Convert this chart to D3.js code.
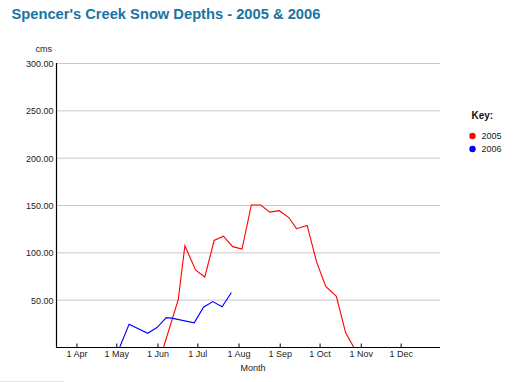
<!DOCTYPE html>
<html>
<head>
<meta charset="utf-8">
<script src="https://cdn.jsdelivr.net/npm/d3@7"></script>
<style>
  html, body { margin: 0; padding: 0; background: #fff; }
  svg { display: block; font-family: "Liberation Sans", Arial, Helvetica, sans-serif; }
</style>
</head>
<body>
<svg id="chart" width="532" height="382"></svg>
<script>
// ---- data (month-day of reading, snow depth in cms) ----
const dates2005 = ["06-06","06-17","06-22","06-30","07-07","07-14","07-21","07-28","08-04","08-11","08-18","08-25","09-01","09-08","09-14","09-22","09-29","10-06","10-14","10-21","10-27"];
const depth2005 = [0, 50, 107, 81.5, 74, 112.5, 117, 106, 103.5, 150, 150, 142.5, 144, 137, 125, 128.5, 90.5, 64, 53.5, 15, 0];
const dates2006 = ["05-04","05-11","05-25","06-01","06-08","06-12","06-29","07-06","07-13","07-20","07-27"];
const depth2006 = [0, 24, 14.5, 20.5, 31, 30.5, 25.5, 42, 48, 42.5, 57.5];
const seriesNames = ["2005", "2006"];
const seriesColors = ["#ff0000", "#0000ff"];
const monthTicks = ["04-01","05-01","06-01","07-01","08-01","09-01","10-01","11-01","12-01"];
const yTicks = [50, 100, 150, 200, 250, 300];
const xDomain = ["03-17", "12-31"];

(function () {
const parse = s => d3.timeParse("%Y-%m-%d")("2005-" + s);
const svg = d3.select("#chart");

// title
svg.append("text").attr("x", 11.5).attr("y", 18.5)
  .attr("font-size", "14.7px").attr("font-weight", "bold").attr("fill", "#1a74a3")
  .text("Spencer's Creek Snow Depths - 2005 & 2006");

const mLeft = 56, mRight = 440, mTop = 63, mBottom = 347;
const x = d3.scaleTime().domain(xDomain.map(parse)).range([mLeft, mRight]);
const y = d3.scaleLinear().domain([0, 300]).range([mBottom, mTop]);

// gridlines
svg.append("g").selectAll("line").data(yTicks).join("line")
  .attr("x1", mLeft).attr("x2", mRight)
  .attr("y1", d => y(d) + 0.5).attr("y2", d => y(d) + 0.5)
  .attr("stroke", "#c8c8c8").attr("stroke-width", 1);

// y axis
const yAxis = d3.axisLeft(y).tickValues(yTicks).tickSize(0).tickPadding(3)
  .tickFormat(d3.format(".2f"));
const gy = svg.append("g").attr("transform", `translate(${mLeft + 0.5},0.5)`).call(yAxis);
gy.select(".domain").remove();
gy.selectAll("text").attr("font-size", "9px").attr("fill", "#222");
gy.attr("font-family", null);
svg.append("line").attr("x1", mLeft + 0.5).attr("x2", mLeft + 0.5).attr("y1", mTop).attr("y2", mBottom + 0.5)
  .attr("stroke", "#000").attr("stroke-width", 1.2);

svg.append("text").attr("x", 52).attr("y", 52).attr("text-anchor", "end")
  .attr("font-size", "9px").attr("fill", "#222").text("cms");

// x axis
const fmt = d3.timeFormat("%-d %b");
const xAxis = d3.axisBottom(x).tickValues(monthTicks.map(parse)).tickSize(-4).tickPadding(3.5)
  .tickFormat(fmt);
const gx = svg.append("g").attr("transform", `translate(0.5,${mBottom + 0.5})`).call(xAxis);
gx.select(".domain").remove();
gx.attr("font-family", null);
gx.selectAll(".tick line").attr("stroke", "#000");
gx.selectAll("text").attr("font-size", "9px").attr("fill", "#222");
svg.append("line").attr("x1", mLeft).attr("x2", mRight).attr("y1", mBottom + 0.5).attr("y2", mBottom + 0.5)
  .attr("stroke", "#000").attr("stroke-width", 1.2);

svg.append("text").attr("x", 253).attr("y", 371).attr("text-anchor", "middle")
  .attr("font-size", "9px").attr("fill", "#222").text("Month");

// lines
const series = [
  dates2005.map((d, i) => ({ date: parse(d), v: depth2005[i] })),
  dates2006.map((d, i) => ({ date: parse(d), v: depth2006[i] }))
];
const line = d3.line().x(d => x(d.date)).y(d => y(d.v));
svg.append("g").selectAll("path").data(series).join("path")
  .attr("d", line).attr("fill", "none")
  .attr("stroke", (d, i) => seriesColors[i]).attr("stroke-width", 1.1);

// legend
svg.append("text").attr("x", 471.5).attr("y", 119).attr("font-size", "10px")
  .attr("font-weight", "bold").attr("fill", "#111").text("Key:");
const lg = svg.append("g").selectAll("g").data(seriesNames).join("g")
  .attr("transform", (d, i) => `translate(472.5,${136 + i * 13})`);
lg.append("circle").attr("r", 3.2).attr("fill", (d, i) => seriesColors[i]);
lg.append("text").attr("x", 9).attr("y", 3.3).attr("font-size", "9px").attr("fill", "#222").text(d => d);

// faint bottom line
svg.append("line").attr("x1", 0).attr("x2", 64).attr("y1", 381.5).attr("y2", 381.5)
  .attr("stroke", "#e4e4e4").attr("stroke-width", 1);
})();
</script>
</body>
</html>
